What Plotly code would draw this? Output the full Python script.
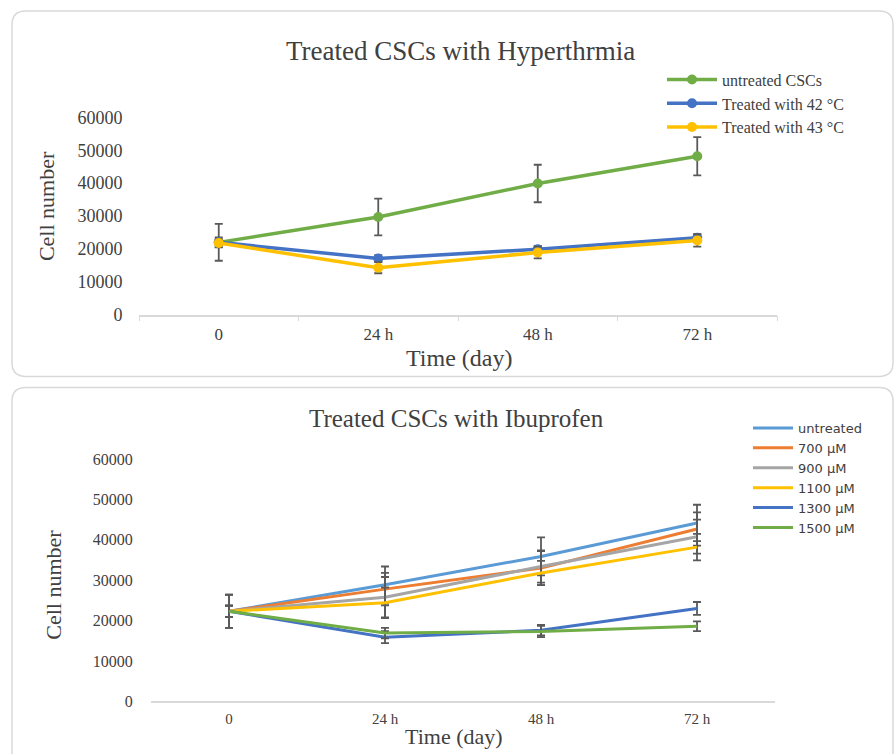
import plotly.graph_objects as go

W, H = 894, 754

# ---------------- data ----------------
time_labels = ["0", "24 h", "48 h", "72 h"]

# Top chart: hyperthermia
untreated_cscs = [22000, 29700, 39900, 48200]
untreated_cscs_err = [5600, 5600, 5700, 5800]
treated_42 = [22000, 17100, 19900, 23400]
treated_42_err = [1500, 1000, 1000, 1100]
treated_43 = [21800, 14300, 18900, 22600]
treated_43_err = [1200, 1700, 1800, 1900]

# Bottom chart: ibuprofen
ibu_untreated = [22300, 28900, 35900, 44200]
ibu_untreated_err = [4100, 4500, 4700, 4500]
ibu_700 = [22300, 27800, 33000, 42700]
ibu_700_err = [4100, 4000, 4200, 4100]
ibu_900 = [22300, 25800, 33400, 40800]
ibu_900_err = [1400, 5000, 4000, 4200]
ibu_1100 = [22300, 24400, 31800, 38200]
ibu_1100_err = [1400, 3800, 3000, 3300]
ibu_1300 = [22300, 15900, 17600, 23000]
ibu_1300_err = [1400, 1500, 1300, 1600]
ibu_1500 = [22300, 16900, 17300, 18600]
ibu_1500_err = [1400, 1300, 1400, 1200]

y_ticks = [0, 10000, 20000, 30000, 40000, 50000, 60000]

SERIF = "Liberation Serif"
SANS = "DejaVu Sans"
ERR_COLOR = "#595959"
TXT = "#404040"


def ry(p):
    # vertical layout correction
    return (p - 8.2) / 0.977


def px_x(p):
    return p / W


def px_y(p):
    return 1 - ry(p) / H


fig = go.Figure()

top_series = [
    ("untreated CSCs", untreated_cscs, untreated_cscs_err, "#70AD47"),
    ("Treated with 42 °C", treated_42, treated_42_err, "#4472C4"),
    ("Treated with 43 °C", treated_43, treated_43_err, "#FFC000"),
]
for name, vals, err, col in top_series:
    fig.add_trace(go.Scatter(
        x=time_labels, y=vals, name=name, mode="lines+markers",
        line=dict(color=col, width=3.5), marker=dict(color=col, size=10),
        error_y=dict(type="data", array=err, visible=True, color=ERR_COLOR,
                     thickness=1.8, width=4),
        xaxis="x", yaxis="y", legend="legend",
    ))

bottom_series = [
    ("untreated", ibu_untreated, ibu_untreated_err, "#5B9BD5"),
    ("700 µM", ibu_700, ibu_700_err, "#ED7D31"),
    ("900 µM", ibu_900, ibu_900_err, "#A5A5A5"),
    ("1100 µM", ibu_1100, ibu_1100_err, "#FFC000"),
    ("1300 µM", ibu_1300, ibu_1300_err, "#4472C4"),
    ("1500 µM", ibu_1500, ibu_1500_err, "#70AD47"),
]
for name, vals, err, col in bottom_series:
    fig.add_trace(go.Scatter(
        x=time_labels, y=vals, name=name, mode="lines",
        line=dict(color=col, width=3),
        error_y=dict(type="data", array=err, visible=True, color=ERR_COLOR,
                     thickness=1.8, width=4),
        xaxis="x2", yaxis="y2", legend="legend2",
    ))


def rounded_path(x0, y0, x1, y1, r):
    rx, ry_ = r / W, r / H
    X0, X1 = px_x(x0), px_x(x1)
    Y0 = min(px_y(y0), 1 - 1 / H)
    Y1 = px_y(y1)
    return (f"M {X0+rx},{Y0} L {X1-rx},{Y0} Q {X1},{Y0} {X1},{Y0-ry_} "
            f"L {X1},{Y1+ry_} Q {X1},{Y1} {X1-rx},{Y1} "
            f"L {X0+rx},{Y1} Q {X0},{Y1} {X0},{Y1+ry_} "
            f"L {X0},{Y0-ry_} Q {X0},{Y0} {X0+rx},{Y0} Z")


shapes = [
    dict(type="path", xref="paper", yref="paper",
         path=rounded_path(12, 8, 893, 376, 14),
         line=dict(color="#d9d9d9", width=1.5), layer="below"),
    dict(type="path", xref="paper", yref="paper",
         path=rounded_path(12, 387, 893, 790, 14),
         line=dict(color="#d9d9d9", width=1.5), layer="below"),
]


def ann(text, x, y, size, angle=0):
    return dict(text=text, x=px_x(x), y=px_y(y), xref="paper", yref="paper",
                xanchor="center", yanchor="middle", showarrow=False,
                textangle=angle, font=dict(family=SERIF, size=size, color=TXT))


annotations = [
    ann("Treated CSCs with Hyperthrmia", 460, 49, 27),
    ann("Treated CSCs with Ibuprofen", 456, 418, 25),
    ann("Time (day)", 459, 357, 24),
    ann("Time (day)", 454, 737, 22),
    ann("Cell number", 46, 205, 22, -90),
    ann("Cell number", 54, 585, 22, -90),
]

fig.update_layout(
    width=W, height=H,
    margin=dict(l=0, r=0, t=0, b=0),
    paper_bgcolor="white", plot_bgcolor="white",
    shapes=shapes, annotations=annotations,
    xaxis=dict(domain=[px_x(139), px_x(777)], anchor="y",
               type="category", range=[-0.5, 3.5],
               showline=True, linecolor="#d9d9d9", linewidth=1.5,
               showgrid=False, zeroline=False,
               ticks="outside", tickson="boundaries", ticklen=5,
               tickcolor="#d9d9d9", ticklabelstandoff=3,
               tickfont=dict(family=SERIF, size=17, color=TXT)),
    yaxis=dict(domain=[px_y(314), px_y(116)], anchor="x",
               range=[0, 60000], tickvals=y_ticks, tickformat="d",
               showline=False, showgrid=False, zeroline=False,
               ticks="outside", ticklen=12, tickcolor="rgba(0,0,0,0)",
               tickfont=dict(family=SERIF, size=18, color=TXT)),
    xaxis2=dict(domain=[px_x(151), px_x(775)], anchor="y2",
                type="category", range=[-0.5, 3.5],
                showline=True, linecolor="#d9d9d9", linewidth=1.5,
                showgrid=False, zeroline=False,
                ticks="outside", ticklen=3, tickcolor="rgba(0,0,0,0)",
                tickfont=dict(family=SERIF, size=15, color=TXT)),
    yaxis2=dict(domain=[px_y(702), px_y(459)], anchor="x2",
                range=[0, 60000], tickvals=y_ticks, tickformat="d",
                showline=False, showgrid=False, zeroline=False,
                ticks="outside", ticklen=14, tickcolor="rgba(0,0,0,0)",
                tickfont=dict(family=SERIF, size=16, color=TXT)),
    legend=dict(x=px_x(662), y=1 - 54 / H, xanchor="left", yanchor="top",
                bgcolor="rgba(0,0,0,0)",
                font=dict(family=SERIF, size=16, color=TXT),
                itemwidth=50, tracegroupgap=0),
    legend2=dict(x=px_x(748), y=1 - 414 / H, xanchor="left", yanchor="top",
                 bgcolor="rgba(0,0,0,0)",
                 font=dict(family=SANS, size=13, color=TXT),
                 itemwidth=40, tracegroupgap=0),
    showlegend=True,
)

fig.write_html(
    "out.html",
    config={"displayModeBar": False},
    post_script=("document.documentElement.style.margin='0';"
                 "document.body.style.margin='0';"
                 "document.body.style.overflow='hidden';"
                 "var d=document.getElementById('{plot_id}');"
                 "d.style.position='fixed';d.style.top='0';d.style.left='0';"),
)
